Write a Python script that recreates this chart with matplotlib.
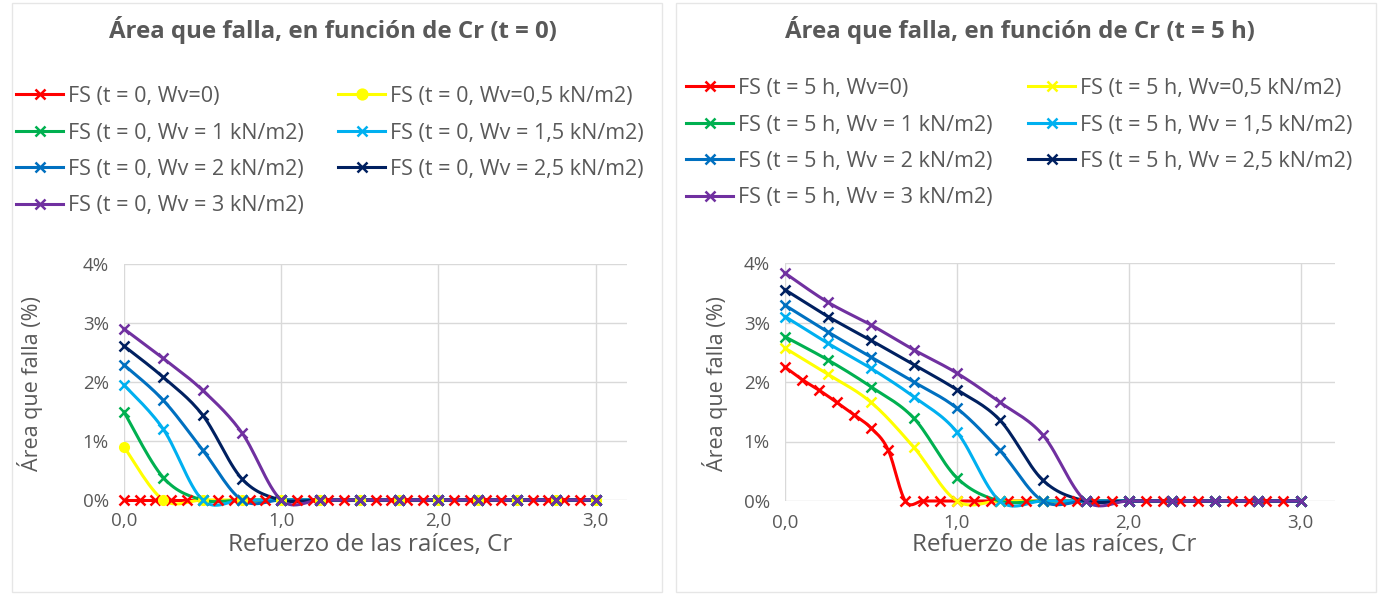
import numpy as np
import matplotlib
matplotlib.use("Agg")
import matplotlib.pyplot as plt
from matplotlib.lines import Line2D
from matplotlib.patches import Rectangle

plt.rcParams['font.family'] = ['Open Sans', 'DejaVu Sans']

# ---------------- data (percent of failed area) ----------------
cr_fine = [round(0.1 * i, 1) for i in range(31)]          # 0.0 .. 3.0 step 0.1
cr_std = [0.25 * i for i in range(13)]                    # 0.0 .. 3.0 step 0.25

# t = 0
t0_wv0 = [0.0] * 31
t0_wv05 = [0.90, 0.0, 0.0, 0.0, 0.0, 0.0, 0.0, 0.0, 0.0, 0.0, 0.0, 0.0, 0.0]
t0_wv1 = [1.49, 0.38, 0.0, 0.0, 0.0, 0.0, 0.0, 0.0, 0.0, 0.0, 0.0, 0.0, 0.0]
t0_wv15 = [1.95, 1.20, 0.0, 0.0, 0.0, 0.0, 0.0, 0.0, 0.0, 0.0, 0.0, 0.0, 0.0]
t0_wv2 = [2.29, 1.69, 0.85, 0.0, 0.0, 0.0, 0.0, 0.0, 0.0, 0.0, 0.0, 0.0, 0.0]
t0_wv25 = [2.61, 2.08, 1.44, 0.36, 0.0, 0.0, 0.0, 0.0, 0.0, 0.0, 0.0, 0.0, 0.0]
t0_wv3 = [2.90, 2.40, 1.86, 1.14, 0.0, 0.0, 0.0, 0.0, 0.0, 0.0, 0.0, 0.0, 0.0]

# t = 5 h
t5_wv0 = [2.25, 2.04, 1.86, 1.66, 1.45, 1.23, 0.86] + [0.0] * 24
t5_wv05 = [2.57, 2.13, 1.66, 0.90, 0.0, 0.0, 0.0, 0.0, 0.0, 0.0, 0.0, 0.0, 0.0]
t5_wv1 = [2.76, 2.37, 1.92, 1.39, 0.39, 0.0, 0.0, 0.0, 0.0, 0.0, 0.0, 0.0, 0.0]
t5_wv15 = [3.10, 2.65, 2.23, 1.75, 1.16, 0.0, 0.0, 0.0, 0.0, 0.0, 0.0, 0.0, 0.0]
t5_wv2 = [3.29, 2.84, 2.42, 2.00, 1.56, 0.85, 0.0, 0.0, 0.0, 0.0, 0.0, 0.0, 0.0]
t5_wv25 = [3.55, 3.10, 2.70, 2.29, 1.87, 1.36, 0.35, 0.0, 0.0, 0.0, 0.0, 0.0, 0.0]
t5_wv3 = [3.83, 3.34, 2.96, 2.54, 2.15, 1.66, 1.11, 0.0, 0.0, 0.0, 0.0, 0.0, 0.0]

labels_t0 = ["FS (t = 0, Wv=0)", "FS (t = 0, Wv=0,5 kN/m2)", "FS (t = 0, Wv = 1 kN/m2)",
             "FS (t = 0, Wv = 1,5 kN/m2)", "FS (t = 0, Wv = 2 kN/m2)", "FS (t = 0, Wv = 2,5 kN/m2)",
             "FS (t = 0, Wv = 3 kN/m2)"]
labels_t5 = ["FS (t = 5 h, Wv=0)", "FS (t = 5 h, Wv=0,5 kN/m2)", "FS (t = 5 h, Wv = 1 kN/m2)",
             "FS (t = 5 h, Wv = 1,5 kN/m2)", "FS (t = 5 h, Wv = 2 kN/m2)", "FS (t = 5 h, Wv = 2,5 kN/m2)",
             "FS (t = 5 h, Wv = 3 kN/m2)"]
titles = ["Área que falla, en función de Cr (t = 0)", "Área que falla, en función de Cr (t = 5 h)"]
xlabel = "Refuerzo de las raíces, Cr"
ylabel = "Área que falla (%)"
xtick_vals = [0, 1, 2, 3]
xtick_labels = ["0,0", "1,0", "2,0", "3,0"]
ytick_vals = [0, 1, 2, 3, 4]
ytick_labels = ["0%", "1%", "2%", "3%", "4%"]

colors = ['#FF0000', '#FFFF00', '#00B050', '#00B0F0', '#0070C0', '#002060', '#7030A0']
markers_t0 = ['x', 'o', 'x', 'x', 'x', 'x', 'x']
markers_t5 = ['x', 'x', 'x', 'x', 'x', 'x', 'x']

series_t0 = [(cr_fine, t0_wv0), (cr_std, t0_wv05), (cr_std, t0_wv1), (cr_std, t0_wv15),
             (cr_std, t0_wv2), (cr_std, t0_wv25), (cr_std, t0_wv3)]
series_t5 = [(cr_fine, t5_wv0), (cr_std, t5_wv05), (cr_std, t5_wv1), (cr_std, t5_wv15),
             (cr_std, t5_wv2), (cr_std, t5_wv25), (cr_std, t5_wv3)]

TXT = '#595959'
GRID = '#D9D9D9'


def smooth(x, y, n=16):
    """Excel-like smoothed line (cubic Bezier through the points)."""
    p = np.column_stack([x, y]).astype(float)
    m = len(p)
    out = [p[0]]
    for i in range(m - 1):
        p0 = p[i - 1] if i > 0 else p[i]
        p1 = p[i]
        p2 = p[i + 1]
        p3 = p[i + 2] if i + 2 < m else p[i + 1]
        c1 = p1 + (p2 - p0) / 6.0
        c2 = p2 - (p3 - p1) / 6.0
        t = np.linspace(0, 1, n)[1:, None]
        seg = ((1 - t) ** 3) * p1 + 3 * ((1 - t) ** 2) * t * c1 + 3 * (1 - t) * t ** 2 * c2 + t ** 3 * p2
        out.extend(seg)
    out = np.array(out)
    return out[:, 0], out[:, 1]


W, H = 1383, 597
fig = plt.figure(figsize=(W / 100, H / 100), dpi=100)


def fx(px):
    return px / W


def fy(py):
    return 1 - py / H


# chart area borders
fig.patches.append(Rectangle((fx(12), fy(592)), fx(650), (592 - 3) / H, transform=fig.transFigure,
                             fill=False, ec='#E6E6E6', lw=1))
fig.patches.append(Rectangle((fx(676), fy(592)), fx(700), (592 - 3) / H, transform=fig.transFigure,
                             fill=False, ec='#E6E6E6', lw=1))

panels = [
    dict(series=series_t0, labels=labels_t0, markers=markers_t0, title=titles[0],
         ax_rect=(124, 264, 627, 500), title_x=333, leg_x1=16, leg_x2=338, leg_y=86, ylab_x=30),
    dict(series=series_t5, labels=labels_t5, markers=markers_t5, title=titles[1],
         ax_rect=(785, 263, 1335, 501), title_x=1020, leg_x1=686, leg_x2=1028, leg_y=78, ylab_x=715),
]

for pn in panels:
    l, t, r, b = pn['ax_rect']
    ax = fig.add_axes([fx(l), fy(b), fx(r - l), (b - t) / H])
    ax.set_xlim(0, 3.2)
    ax.set_ylim(0, 4)
    for s in ax.spines.values():
        s.set_visible(False)
    ax.set_xticks(xtick_vals)
    ax.set_xticklabels(xtick_labels)
    ax.set_yticks(ytick_vals)
    ax.set_yticklabels(ytick_labels)
    ax.tick_params(length=0, colors=TXT, labelsize=13.5)
    ax.tick_params(axis='y', pad=11)
    ax.tick_params(axis='x', pad=9)
    ax.grid(True, color=GRID, lw=1)
    ax.set_axisbelow(True)
    handles = []
    for (xs, ys), c, mk, lab in zip(pn['series'], colors, pn['markers'], pn['labels']):
        sx, sy = smooth(xs, ys)
        ax.plot(sx, sy, color=c, lw=2.2, clip_on=False, zorder=3)
        if mk == 'o':
            ax.plot(xs, ys, ls='none', marker='o', ms=7, color=c, clip_on=False, zorder=4)
        else:
            ax.plot(xs, ys, ls='none', marker='x', ms=7, mew=1.8, color=c, clip_on=False, zorder=4)
        handles.append(Line2D([], [], color=c, lw=2.2, marker=mk, ms=7, mew=1.8, label=lab))
    fig.text(fx(pn['ylab_x']), fy((t + b) / 2 + 2), ylabel, rotation=90, ha='center',
             va='center', color=TXT, fontsize=15.5)
    fig.text(fx(l + (r - l) * 0.49), fy(545), xlabel, ha='center', va='center', color=TXT,
             fontsize=17.5)
    fig.text(fx(pn['title_x']), fy(30), pn['title'], ha='center', va='center', color=TXT,
             fontsize=17.3, fontweight='bold')
    col1 = [handles[i] for i in (0, 2, 4, 6)]
    col2 = [handles[i] for i in (1, 3, 5)]
    common = dict(frameon=False, fontsize=15.5, handlelength=2.2, handletextpad=0.2,
                  labelspacing=0.72, borderaxespad=0, borderpad=0, labelcolor=TXT, loc='upper left')
    lg1 = fig.legend(handles=col1, bbox_to_anchor=(fx(pn['leg_x1']), fy(pn['leg_y'])), **common)
    lg2 = fig.legend(handles=col2, bbox_to_anchor=(fx(pn['leg_x2']), fy(pn['leg_y'])), **common)

fig.savefig('out.png', dpi=100)
